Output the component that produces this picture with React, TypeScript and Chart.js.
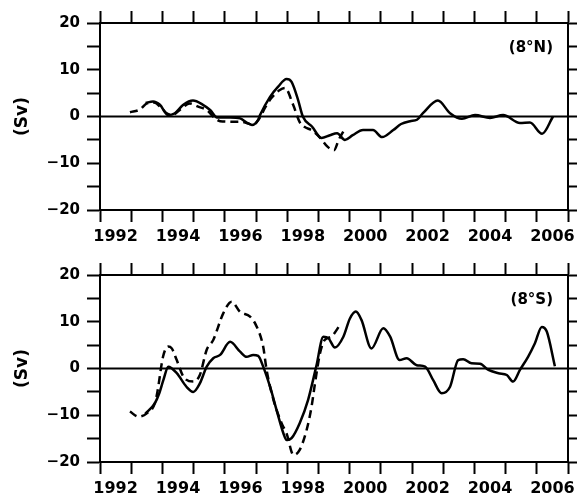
import React, { useEffect, useRef } from 'react';
import { Chart, registerables } from 'chart.js';

Chart.register(...registerables);

// ---- axes ----
const X_MIN = 1992;
const X_MAX = 2007;
const Y_MIN = -20;
const Y_MAX = 20;
const Y_STEP = 5;
const Y_LABEL_STEP = 10;
const X_LABEL_YEARS = [1992, 1994, 1996, 1998, 2000, 2002, 2004, 2006];
const Y_TITLE = '(Sv)';
const TOP_LABEL = '(8\u00b0N)';
const BOTTOM_LABEL = '(8\u00b0S)';

// ---- 8°N ----
const N_SOLID_YEARS = [1993.46, 1993.7, 1993.92, 1994.18, 1994.4, 1994.67, 1994.98, 1995.3, 1995.53, 1995.75, 1996.17, 1996.49, 1996.7, 1996.87, 1997.07, 1997.13, 1997.45, 1997.71, 1997.98, 1998.14, 1998.35, 1998.5, 1998.8, 1999.1, 1999.37, 1999.6, 1999.85, 2000.1, 2000.43, 2000.75, 2001.04, 2001.4, 2001.65, 2001.94, 2002.16, 2002.35, 2002.83, 2003.22, 2003.6, 2004.02, 2004.5, 2004.92, 2005.46, 2005.78, 2006.17, 2006.52];
const N_SOLID_VALUES = [2.9, 3.2, 2.5, 0.3, 0.7, 2.5, 3.4, 2.5, 1.4, -0.2, -0.2, -0.4, -1.3, -1.8, -0.7, 0.3, 4.2, 6.4, 8.0, 7.4, 3.5, 0.0, -2.2, -4.6, -4.0, -3.6, -5.0, -4.0, -2.9, -2.9, -4.4, -2.9, -1.6, -1.0, -0.7, 0.7, 3.4, 0.7, -0.5, 0.3, -0.3, 0.3, -1.4, -1.3, -3.7, 0.0];
const N_DASH_YEARS = [1992.96, 1993.28, 1993.5, 1993.73, 1993.98, 1994.14, 1994.3, 1994.56, 1994.88, 1995.15, 1995.42, 1995.69, 1995.85, 1996.22, 1996.49, 1996.75, 1996.9, 1997.1, 1997.3, 1997.5, 1997.75, 1997.93, 1998.19, 1998.4, 1998.55, 1998.8, 1999.05, 1999.3, 1999.5, 1999.65, 1999.8];
const N_DASH_VALUES = [0.9, 1.5, 2.8, 3.0, 1.75, 0.7, 0.3, 1.4, 2.8, 2.1, 1.4, -0.4, -1.0, -1.1, -1.1, -1.5, -1.8, -0.5, 2.0, 4.0, 5.6, 6.1, 2.5, -1.2, -2.2, -3.0, -4.5, -6.5, -7.2, -5.0, -3.2];

// ---- 8°S ----
const S_SOLID_YEARS = [1993.45, 1993.76, 1993.9, 1994.03, 1994.19, 1994.46, 1994.77, 1994.99, 1995.2, 1995.42, 1995.63, 1995.85, 1996.17, 1996.49, 1996.7, 1996.91, 1997.07, 1997.23, 1997.45, 1997.66, 1997.88, 1997.98, 1998.14, 1998.4, 1998.67, 1998.93, 1999.16, 1999.32, 1999.53, 1999.8, 2000.01, 2000.2, 2000.38, 2000.7, 2001.08, 2001.3, 2001.6, 2001.83, 2002.15, 2002.42, 2002.68, 2002.95, 2003.22, 2003.48, 2003.64, 2003.91, 2004.18, 2004.45, 2004.77, 2005.04, 2005.24, 2005.46, 2005.72, 2005.94, 2006.16, 2006.32, 2006.58];
const S_SOLID_VALUES = [-9.7, -7.4, -5.3, -2.5, 0.4, -1.0, -3.9, -5.0, -3.2, 0.4, 2.2, 2.9, 5.7, 3.6, 2.5, 2.9, 2.7, 0.4, -3.9, -8.9, -13.9, -15.3, -14.9, -11.7, -6.7, 0.4, 6.8, 6.5, 4.5, 6.8, 10.7, 12.2, 10.4, 4.3, 8.6, 6.8, 1.8, 2.2, 0.7, 0.4, -2.5, -5.3, -3.9, 1.8, 2.0, 1.1, 1.0, -0.3, -1.0, -1.4, -2.8, -0.3, 2.5, 5.4, 8.9, 7.9, 0.5];
const S_DASH_YEARS = [1992.96, 1993.23, 1993.5, 1993.76, 1993.84, 1994.02, 1994.18, 1994.3, 1994.46, 1994.67, 1994.99, 1995.2, 1995.42, 1995.63, 1995.95, 1996.22, 1996.49, 1996.81, 1997.02, 1997.23, 1997.34, 1997.56, 1997.82, 1997.98, 1998.2, 1998.4, 1998.62, 1998.78, 1998.89, 1999.05, 1999.2, 1999.41, 1999.69];
const S_DASH_VALUES = [-9.2, -10.3, -9.6, -7.4, -5.0, 2.5, 4.7, 4.3, 1.8, -1.7, -2.8, -1.4, 4.0, 6.1, 11.8, 14.3, 12.1, 11.1, 9.0, 4.7, -0.3, -6.7, -11.7, -13.9, -18.5, -17.4, -13.2, -8.2, -3.2, 3.2, 6.1, 6.8, 9.3];

const FONT = '"DejaVu Sans", sans-serif';
const W = 577;

const pts = (xs: number[], ys: number[]) => xs.map((x, i) => ({ x, y: ys[i] }));

const cornerLabel = {
  id: 'cornerLabel',
  afterDatasetsDraw(chart: any, _args: any, opts: any) {
    const { ctx, chartArea } = chart;
    ctx.save();
    ctx.font = `bold 15px ${FONT}`;
    ctx.fillStyle = '#000';
    ctx.textAlign = 'right';
    ctx.textBaseline = 'middle';
    ctx.fillText(opts.text, chartArea.right - 15, chartArea.top + 25);
    ctx.restore();
  },
};

function range(a: number, b: number, s: number) {
  const out: number[] = [];
  for (let v = a; v <= b + 1e-9; v += s) out.push(Math.round(v * 10) / 10);
  return out;
}

function makeConfig(solidX: number[], solidY: number[], dashX: number[], dashY: number[], label: string, topH: number, bottomH: number): any {
  const yearTicks = range(X_MIN, X_MAX, 1);
  const bottomTicks = [...yearTicks, ...X_LABEL_YEARS.map((y) => y + 0.5)].sort((a, b) => a - b);
  const yTicks = range(Y_MIN, Y_MAX, Y_STEP);
  const tickFont = { family: FONT, size: 16, weight: 'bold' as const };
  return {
    type: 'line',
    data: {
      datasets: [
        { data: [{ x: X_MIN, y: 0 }, { x: X_MAX, y: 0 }], borderColor: '#000', borderWidth: 2, pointRadius: 0, tension: 0 },
        { data: pts(dashX, dashY), borderColor: '#000', borderWidth: 2.5, borderDash: [8, 5], pointRadius: 0, cubicInterpolationMode: 'monotone' },
        { data: pts(solidX, solidY), borderColor: '#000', borderWidth: 2.5, pointRadius: 0, cubicInterpolationMode: 'monotone' },
      ],
    },
    options: {
      responsive: false,
      animation: false,
      layout: { padding: 0 },
      plugins: { legend: { display: false }, tooltip: { enabled: false }, cornerLabel: { text: label } },
      scales: {
        x: {
          type: 'linear', position: 'bottom', min: X_MIN, max: X_MAX,
          afterBuildTicks: (s: any) => { s.ticks = bottomTicks.map((value) => ({ value })); },
          afterFit: (s: any) => { s.height = bottomH; },
          ticks: {
            autoSkip: false, maxRotation: 0, minRotation: 0, padding: 5, color: '#000', font: tickFont,
            callback: (v: number) => (Math.abs(v - Math.floor(v) - 0.5) < 1e-6 ? String(Math.floor(v)) : ''),
          },
          grid: {
            drawOnChartArea: false, drawTicks: true, tickLength: 12, tickWidth: 2,
            tickColor: (c: any) => (c.tick && Number.isInteger(c.tick.value) ? '#000' : 'rgba(0,0,0,0)'),
          },
          border: { display: true, color: '#000', width: 2 },
        },
        x2: {
          type: 'linear', position: 'top', min: X_MIN, max: X_MAX,
          afterBuildTicks: (s: any) => { s.ticks = yearTicks.map((value) => ({ value })); },
          afterFit: (s: any) => { s.height = topH; },
          ticks: { display: false },
          grid: { drawOnChartArea: false, drawTicks: true, tickLength: 12, tickWidth: 2, tickColor: '#000' },
          border: { display: true, color: '#000', width: 2 },
        },
        y: {
          type: 'linear', position: 'left', min: Y_MIN, max: Y_MAX,
          afterBuildTicks: (s: any) => { s.ticks = yTicks.map((value) => ({ value })); },
          afterFit: (s: any) => { s.width = 100; },
          ticks: {
            padding: 7, color: '#000', font: { family: FONT, size: 15, weight: 'bold' },
            callback: (v: number) => (v % Y_LABEL_STEP === 0 ? (v < 0 ? '\u2212' + Math.abs(v) : String(v)) : ''),
          },
          title: { display: true, text: Y_TITLE, color: '#000', font: { family: FONT, size: 17, weight: 'bold' }, padding: { top: 12, bottom: 0 } },
          grid: { drawOnChartArea: false, drawTicks: true, tickLength: 13, tickWidth: 2, tickColor: '#000' },
          border: { display: true, color: '#000', width: 2 },
        },
        y2: {
          type: 'linear', position: 'right', min: Y_MIN, max: Y_MAX,
          afterBuildTicks: (s: any) => { s.ticks = yTicks.map((value) => ({ value })); },
          afterFit: (s: any) => { s.width = 9; },
          ticks: { display: false },
          grid: { drawOnChartArea: false, drawTicks: true, tickLength: 9, tickWidth: 2, tickColor: '#000' },
          border: { display: true, color: '#000', width: 2 },
        },
      },
    },
    plugins: [cornerLabel],
  };
}

function Panel({ cfg, top, height }: { cfg: any; top: number; height: number }) {
  const ref = useRef<HTMLCanvasElement | null>(null);
  useEffect(() => {
    if (!ref.current) return;
    const chart = new Chart(ref.current, cfg);
    return () => chart.destroy();
  }, [cfg]);
  return (
    <canvas ref={ref} width={W} height={height} style={{ position: 'absolute', left: 0, top, width: W, height, display: 'block' }} />
  );
}

const TOP_CFG = makeConfig(N_SOLID_YEARS, N_SOLID_VALUES, N_DASH_YEARS, N_DASH_VALUES, TOP_LABEL, 23, 40);
const BOTTOM_CFG = makeConfig(S_SOLID_YEARS, S_SOLID_VALUES, S_DASH_YEARS, S_DASH_VALUES, BOTTOM_LABEL, 25, 39);

export default function App() {
  return (
    <div style={{ position: 'absolute', left: 0, top: 0, width: W, height: 501, background: '#fff' }}>
      <Panel cfg={TOP_CFG} top={0} height={250} />
      <Panel cfg={BOTTOM_CFG} top={250} height={251} />
    </div>
  );
}
